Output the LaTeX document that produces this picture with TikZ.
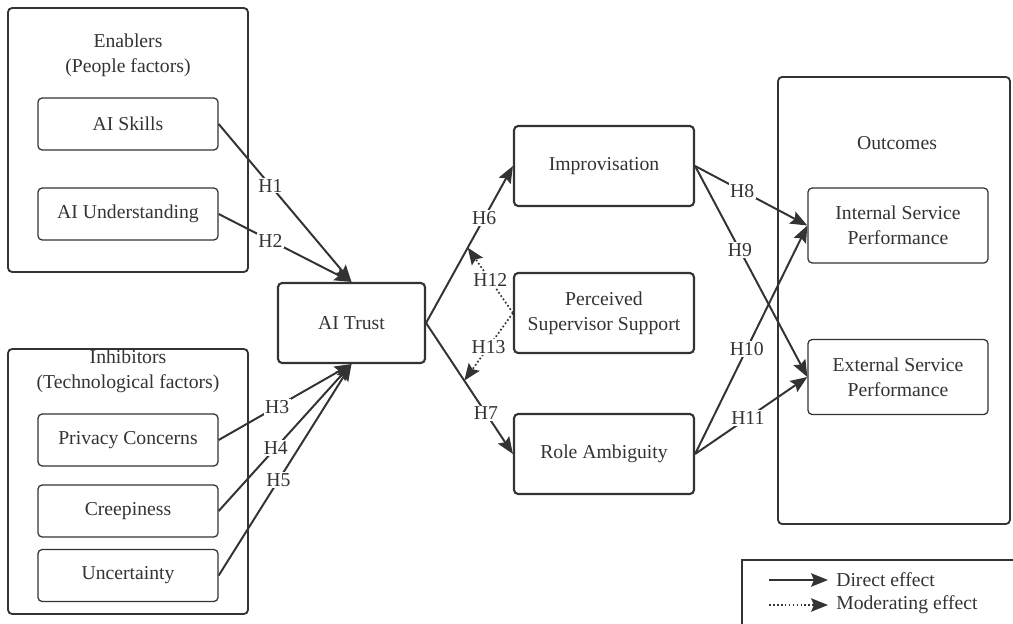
\documentclass[tikz,border=0pt]{standalone}
\usepackage{fontspec}
\setmainfont{Liberation Serif}
\usetikzlibrary{arrows.meta,positioning}
\definecolor{ink}{rgb}{.2,.2,.2}

\begin{document}
\begin{tikzpicture}[x=0.025cm, y=-0.025cm, color=ink,
    >={Stealth[length=12pt, width=9.5pt, inset=2pt]},
    font=\fontsize{14}{17.5}\selectfont,
    grp/.style={draw, line width=1.3pt, rounded corners=3pt},
    sub/.style={draw, line width=0.9pt, rounded corners=3pt, minimum width=4.5cm, minimum height=1.3cm, align=center},
    core/.style={draw, line width=1.5pt, rounded corners=3pt, minimum width=4.5cm, minimum height=2cm, align=center},
    hyp/.style={fill=white, inner sep=1pt},
    eff/.style={->, line width=1.4pt},
    mod/.style={->, line width=1.2pt, dash pattern=on 1.2pt off 1.6pt}]
  \useasboundingbox (0,0) rectangle (1013,624);
  % people factors
  \node[grp, minimum width=6cm, minimum height=6.6cm] (enab) at (128,140) {};
  \node[align=center] (enabT) at (128,55) {Enablers\\(People factors)};
  \node[sub] (skill) at (128,124) {AI Skills};
  \node[sub] (under) at (128,214) {AI Understanding};
  % technological factors
  \node[grp, minimum width=6cm, minimum height=6.625cm] (inhib) at (128,481.5) {};
  \node[align=center] (inhibT) at (128,371) {Inhibitors\\(Technological factors)};
  \node[sub] (priv) at (128,440) {Privacy Concerns};
  \node[sub] (creep) at (128,511) {Creepiness};
  \node[sub] (uncer) at (128,575.5) {Uncertainty};
  % mediators
  \node[core, minimum width=3.675cm] (trust) at (351.5,323) {AI Trust};
  \node[core] (impro) at (604,166) {Improvisation};
  \node[core] (pss) at (604,313) {Perceived\\Supervisor Support};
  \node[core] (role) at (604,454) {Role Ambiguity};
  % outcomes
  \node[grp, minimum width=5.8cm, minimum height=11.175cm] (outc) at (894,300.5) {};
  \node (outcT) at (897,143) {Outcomes};
  \node[sub, minimum height=1.875cm] (isp) at (898,225.5) {Internal Service\\Performance};
  \node[sub, minimum height=1.875cm] (esp) at (898,377) {External Service\\Performance};
  % direct effects
  \draw[eff] (skill.east) -- node[hyp, pos=0.39] {H1} (trust.north);
  \draw[eff] (under.east) -- node[hyp, pos=0.39] {H2} (trust.north);
  \draw[eff] (priv.east) -- node[hyp, pos=0.44] {H3} (trust.south);
  \draw[eff] (creep.east) -- node[hyp, pos=0.43] {H4} (trust.south);
  \draw[eff] (uncer.east) -- node[hyp, pos=0.45] {H5} (trust.south);
  \draw[eff] (trust.east) -- node[hyp, pos=0.67] {H6} coordinate[pos=0.48] (m6) (impro.west);
  \draw[eff] (trust.east) -- node[hyp, pos=0.69] {H7} coordinate[pos=0.44] (m7) (role.west);
  \draw[eff] (impro.east) -- node[hyp, pos=0.42] {H8} (isp.west);
  \draw[eff] (impro.east) -- node[hyp, pos=0.40] {H9} (esp.west);
  \draw[eff] (role.east) -- node[hyp, pos=0.46] {H10} (isp.west);
  \draw[eff] (role.east) -- node[hyp, pos=0.47] {H11} (esp.west);
  % moderating effects
  \draw[mod] (pss.west) -- node[hyp] {H12} (m6);
  \draw[mod] (pss.west) -- node[hyp] {H13} (m7);
  % legend
  \draw[grp, rounded corners=0pt] (742,560) rectangle (1040,650);
  \coordinate (d0) at (769,580);
  \coordinate (d1) at (828,580);
  \coordinate (e0) at (769,605);
  \coordinate (e1) at (828,605);
  \draw[eff] (d0) -- (d1);
  \draw[mod] (e0) -- (e1);
  \node[anchor=west, inner sep=0pt] (dtxt) at (836,580) {Direct effect};
  \node[anchor=west, inner sep=0pt] (etxt) at (836,605) {Moderating effect};
\end{tikzpicture}
\end{document}
